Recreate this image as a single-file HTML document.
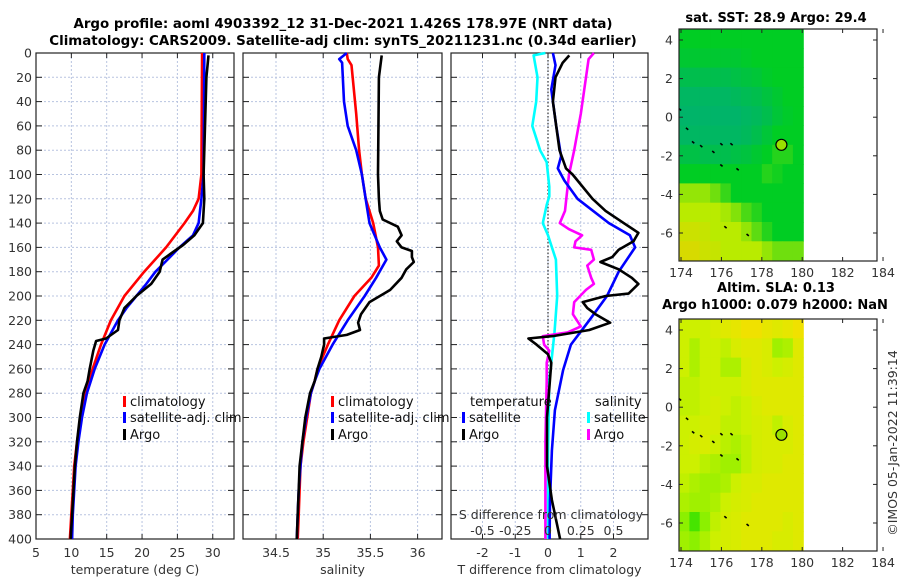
<!DOCTYPE html>
<html><head><meta charset="utf-8"><style>
body{margin:0;background:#fff;}
svg{display:block;font-family:"DejaVu Sans","Liberation Sans",sans-serif;}
.tk{font-size:12.5px;fill:#333;}
.ttl{font-size:13.4px;font-weight:bold;fill:#000;}
.mt{font-size:13px;font-weight:bold;fill:#000;}
.lg{font-size:13px;fill:#111;}
</style></head><body>
<svg id="fig" width="900" height="580" viewBox="0 0 900 580" xmlns="http://www.w3.org/2000/svg">
<text class="ttl" x="343" y="28" text-anchor="middle">Argo profile: aoml 4903392_12 31-Dec-2021 1.426S 178.97E (NRT data)</text>
<text class="ttl" x="343" y="45" text-anchor="middle">Climatology: CARS2009. Satellite-adj clim: synTS_20211231.nc (0.34d earlier)</text>
<g id="layer"></g>
</svg>
<script>
// ---- data ----
const tDepth=[0,100,120,130,140,160,180,200,220,240,260,280,300,320,340,360,380,400];
const tClim=[28.5,28.4,28.0,27.2,26.0,23.4,20.3,17.5,15.6,14.2,13.0,12.0,11.3,10.8,10.4,10.2,10.0,9.8];
const tSatD=[0,100,120,140,150,160,170,180,190,200,210,220,240,260,280,300,320,340,360,380,400];
const tSat=[28.8,28.7,28.4,28.0,27.2,25.3,23.6,21.9,20.6,19.2,17.8,16.6,14.7,13.3,12.2,11.5,11.0,10.6,10.4,10.2,10.1];
const tArgoD=[2,20,100,120,140,150,158,165,170,180,190,200,210,220,228,235,237,245,260,270,280,300,320,340,360,380,400];
const tArgo=[29.4,29.1,28.7,28.8,28.6,27.4,25.8,24.1,22.9,22.5,21.3,19.2,17.5,16.8,16.6,14.9,13.5,13.1,12.6,12.3,11.7,11.2,10.8,10.5,10.3,10.1,9.9];
const sClimD=[0,5,10,50,80,100,120,140,160,175,185,200,220,240,260,270,280,300,320,340,360,380,400];
const sClim=[35.25,35.26,35.30,35.35,35.38,35.41,35.45,35.53,35.58,35.59,35.51,35.33,35.17,35.05,34.94,34.91,34.87,34.83,34.79,34.76,34.75,34.74,34.73];
const sSatD=[0,5,8,40,60,80,100,115,125,140,160,170,185,200,220,240,260,270,280,300,320,340,360,380,400];
const sSat=[35.25,35.17,35.20,35.22,35.26,35.35,35.41,35.44,35.46,35.49,35.60,35.67,35.56,35.44,35.26,35.10,34.96,34.91,34.87,34.82,34.78,34.76,34.74,34.73,34.72];
const sArgoD=[2,20,100,120,130,137,143,150,155,160,163,168,172,178,185,195,205,215,222,228,232,235,240,250,260,270,280,300,320,340,360,380,400];
const sArgo=[35.62,35.59,35.58,35.59,35.60,35.63,35.79,35.83,35.78,35.83,35.94,35.94,35.96,35.88,35.83,35.71,35.49,35.40,35.37,35.39,35.25,35.01,35.01,34.98,34.94,34.91,34.86,34.81,34.78,34.75,34.74,34.73,34.72];
const dSatTD=[0,10,30,60,85,95,105,120,140,150,160,180,200,220,240,261,294,327,368,400];
const dSatT=[0.15,0.23,0.10,0.25,0.40,0.30,0.50,0.90,1.86,2.50,2.66,2.16,1.80,1.26,0.70,0.46,0.21,0.12,0.06,0.05];
const dArgoTD=[2,8,20,40,80,95,100,120,130,140,148,155,162,168,172,178,185,190,198,200,205,210,215,222,228,233,235,240,248,255,300,340,368,400];
const dArgoT=[0.65,0.45,0.23,0.15,0.35,0.55,0.75,1.36,1.76,2.31,2.76,2.61,2.16,1.96,1.60,2.16,2.56,2.76,2.46,1.76,1.06,1.20,1.45,1.90,1.26,0.15,-0.60,-0.35,0.00,0.10,-0.03,-0.03,0.12,0.37];
const dSatSD=[0,2,20,40,60,80,90,110,118,125,140,150,170,200,230,250,270,330,400];
const dSatS=[-0.02,-0.11,-0.08,-0.09,-0.12,-0.06,-0.01,0.01,0.01,-0.01,-0.04,0.00,0.06,0.07,0.05,0.03,0.01,0.00,0.00];
const dArgoSD=[0,5,20,50,80,100,120,130,140,145,150,155,160,162,170,175,185,190,195,205,215,225,230,233,240,245,255,270,320,400];
const dArgoS=[0.35,0.31,0.29,0.25,0.20,0.16,0.14,0.13,0.09,0.16,0.26,0.21,0.20,0.33,0.35,0.30,0.33,0.35,0.29,0.20,0.19,0.25,0.15,-0.04,-0.03,0.01,-0.01,-0.01,-0.02,-0.02];
const depthTicks=[0,20,40,60,80,100,120,140,160,180,200,220,240,260,280,300,320,340,360,380,400];
const tTicks=[5,10,15,20,25,30];
const sTicks=[34.5,35,35.5,36];
const dTTicks=[-2,-1,0,1,2];
const dSTicks=[-0.5,-0.25,0,0.25,0.5];
const dSLabels=["-0.5","-0.25","0","0.25","0.5"];
const latTicks=[4,2,0,-2,-4,-6];
const lonTicks=[174,176,178,180,182,184];
const sstGrid=[
[2,2,2,2,2,2,2,2,2,2,2,2],
[1.8,1.8,1.8,1.8,1.8,1.8,1.9,2,2,2,2,2],
[1.4,1.4,1.4,1.4,1.4,1.5,1.6,1.7,1.9,2,2,2],
[1.1,1.1,1.1,1.1,1.1,1.2,1.3,1.4,1.6,1.8,2,2],
[1,1,1,1,1,1,1.1,1.2,1.4,1.7,1.9,2],
[1.1,1.1,1.1,1.1,1.1,1.1,1.2,1.4,1.7,2,2,2],
[1.5,1.5,1.4,1.4,1.4,1.5,1.6,1.8,2,2.2,2.2,2],
[2,2,2,2,2,2,2,2,2.2,2.1,2,2],
[2.8,2.8,2.8,2.6,2.3,2,2,2,2,2,2,2],
[3,3,3,3,2.9,2.7,2.4,2.2,2,2,2,2],
[3.3,3.3,3.2,3,3,3,2.8,2.5,2.2,2,2,2],
[3.5,3.5,3.3,3.2,3,3,3,3,2.8,2.6,2.6,2.6]];
const slaGrid=[
[2,2,2,2.3,2.5,2.7,3,3,2.7,2.5,2.7,3],
[2,1.5,2,2,1.8,2.3,2.5,2.5,2.3,1.3,1.5,2.5],
[2,1.5,2,2,1.5,1.5,2.3,2.5,2.3,2,2.2,2.5],
[1.8,1.8,2,2,2,2,2.3,2.5,2.5,2.5,2.5,2.5],
[1.8,1.8,2,2.2,2,1.8,2,2.3,2.5,2.5,2.5,2.5],
[2,2,2.2,2.2,1.8,1.8,2,2.2,2.3,1.8,2.3,2.5],
[2,2.2,2.3,2,1.7,1.5,1.8,2.2,2.3,2.3,2.3,2.5],
[2,2,1.7,1.5,1.3,1.3,1.8,2.2,2.3,2.3,2.5,2.5],
[1.8,1.5,1.3,1.3,1.5,2,2.3,2.3,2.5,2.5,2.5,2.5],
[1.5,1.3,1.3,1.5,2,2.2,2.3,2.5,2.5,2.5,2.5,2.5],
[1,0.5,1,1.8,2.2,2.3,2.5,2.5,2.5,2.5,2.3,2.5],
[1.3,1,1.5,2,2.2,2.3,2.5,2.5,2.5,2.3,2.3,2.5]];
const islandLon=[173.95,174.3,174.6,175.0,175.6,176.0,176.5,176.0,176.8,176.2,177.3];
const islandLat=[0.4,-0.6,-1.3,-1.5,-1.8,-1.4,-1.4,-2.5,-2.7,-5.7,-6.1];
const argoLon=178.97, argoLat=-1.43;

// ---- helpers ----
const NS="http://www.w3.org/2000/svg";
const L=document.getElementById('layer');
function mk(tag,attrs,parent){const e=document.createElementNS(NS,tag);for(const k in attrs)e.setAttribute(k,attrs[k]);(parent||L).appendChild(e);return e;}
function txt(s,x,y,cls,anchor,parent){const e=mk('text',{x:x,y:y,class:cls,'text-anchor':anchor||'middle'},parent);e.textContent=s;return e;}
const TOP=53,BOT=539;
const yD=d=>TOP+d*(BOT-TOP)/400;
const xT=t=>36+(t-5)*7.07;
const xS=s=>276+(s-34.5)*94.4;
const xDT=t=>548+t*32.75;
const xDS=s=>548+s*4*32.75;

function panel(name,x0,x1,xTicks,xf,labels,showDepth,xlabel){
  const g=mk('g',{});
  
  
  xTicks.forEach(v=>{const x=xf(v);const ln=mk('line',{x1:x,x2:x,y1:TOP,y2:BOT,stroke:'#b8c4e0','stroke-width':1,'stroke-dasharray':'2,2'},g);
    
    mk('line',{x1:x,x2:x,y1:TOP,y2:TOP+5,stroke:'#222'},g);mk('line',{x1:x,x2:x,y1:BOT,y2:BOT-5,stroke:'#222'},g);});
  depthTicks.forEach(d=>{const y=yD(d);
    if(d>0&&d<400){const ln=mk('line',{x1:x0,x2:x1,y1:y,y2:y,stroke:'#b8c4e0','stroke-width':1,'stroke-dasharray':'2,2'},g);
    }
    mk('line',{x1:x0,x2:x0+6,y1:y,y2:y,stroke:'#222'},g);mk('line',{x1:x1,x2:x1-6,y1:y,y2:y,stroke:'#222'},g);
    if(showDepth){const t=txt(String(d),x0-4,y+4.5,'tk','end',g);}});
  if(labels){xTicks.forEach((v,i)=>{const t=txt(labels[i],xf(v),557,'tk','middle',g);});}
  if(xlabel){const t=txt(xlabel,(x0+x1)/2,574,'tk','middle',g);}
  const b=mk('rect',{x:x0,y:TOP,width:x1-x0,height:BOT-TOP,fill:'none',stroke:'#222','stroke-width':1.2},g);
  
  return g;
}
function series(name,xs,ds,xf,color,w){
  const pts=xs.map((v,i)=>xf(v).toFixed(1)+','+yD(ds[i]).toFixed(1)).join(' ');
  const p=mk('polyline',{points:pts,fill:'none',stroke:color,'stroke-width':w||2.6,'stroke-linejoin':'round'});
  
  
}
function legItem(name,x,y,color,label){
  const r=mk('rect',{x:x,y:y-10,width:3,height:11,fill:color});
  
  
  const t=txt(label,x+7,y,'lg','start');
  
  
}

// ---- panel 1 ----
panel('temperature-panel',36,234,tTicks,xT,tTicks.map(String),true,'temperature (deg C)');
series('temp-climatology-line',tClim,tDepth,xT,'#ff0000');
series('temp-satellite-line',tSat,tSatD,xT,'#0000ff');
series('temp-argo-line',tArgo,tArgoD,xT,'#000000');
legItem('legend-climatology',123,406,'#ff0000','climatology');
legItem('legend-satellite-adj',123,422,'#0000ff','satellite-adj. clim');
legItem('legend-argo',123,439,'#000000','Argo');

// ---- panel 2 ----
panel('salinity-panel',243,442,sTicks,xS,sTicks.map(String),false,'salinity');
series('sal-climatology-line',sClim,sClimD,xS,'#ff0000');
series('sal-satellite-line',sSat,sSatD,xS,'#0000ff');
series('sal-argo-line',sArgo,sArgoD,xS,'#000000');
legItem('legend-climatology-2',331,406,'#ff0000','climatology');
legItem('legend-satellite-adj-2',331,422,'#0000ff','satellite-adj. clim');
legItem('legend-argo-2',331,439,'#000000','Argo');

// ---- panel 3 ----
panel('difference-panel',451,648,dTTicks,xDT,dTTicks.map(String),false,'T difference from climatology');
const zl=mk('line',{x1:xDT(0),x2:xDT(0),y1:TOP,y2:BOT,stroke:'#333','stroke-width':1.2,'stroke-dasharray':'1.5,2'});


series('sat-s-diff-line',dSatS,dSatSD,xDS,'#00ffff');
series('argo-s-diff-line',dArgoS,dArgoSD,xDS,'#ff00ff');
series('sat-t-diff-line',dSatT,dSatTD,xDT,'#0000ff');
series('argo-t-diff-line',dArgoT,dArgoTD,xDT,'#000000');
{const t=txt('S difference from climatology',551,519,'tk','middle');}
dSTicks.forEach((v,i)=>{const t=txt(dSLabels[i],xDS(v),535,'tk','middle');
  
  });
{const t=txt('temperature',470,406,'lg','start');}
{const t=txt('salinity',595,406,'lg','start');}
legItem('legend-t-satellite',462,422,'#0000ff','satellite');
legItem('legend-t-argo',462,439,'#000000','Argo');
legItem('legend-s-satellite',587,422,'#00ffff','satellite');
legItem('legend-s-argo',587,439,'#ff00ff','Argo');

// ---- maps ----
const MX0=679,MX1=877;
const lonX=l=>MX0+(l-173.9)*20.2;
function cmap(stops,v){
  let i=Math.min(stops.length-2,Math.max(0,Math.floor(v)));const f=Math.min(1,Math.max(0,v-i));
  const a=stops[i],b=stops[i+1];
  return 'rgb('+a.map((c,k)=>Math.round(c+(b[k]-c)*f)).join(',')+')';
}
const sstStops=[[0,160,125],[0,180,105],[0,205,35],[185,235,0],[245,200,0]];
const slaStops=[[0,215,0],[140,240,0],[205,240,0],[240,225,0]];
function mapPanel(name,top,grid,stops,t1,t2){
  const bot=top+232;
  const latY=a=>top+(4.57-a)*19.3;
  const g=mk('g',{});
  
  
  const cw=(180.05-173.9)/12;
  grid.forEach((row,r)=>row.forEach((v,c)=>{
    const x=lonX(173.9+c*cw),x2=lonX(173.9+(c+1)*cw);
    const y=latY(4.57-r),y2=latY(4.57-r-1);
    const cell=mk('rect',{x:x.toFixed(1),y:y.toFixed(1),width:(x2-x+0.5).toFixed(1),height:(Math.min(y2,bot)-y+0.5).toFixed(1),fill:cmap(stops,v)},g);
    
    
  }));
  islandLon.forEach((l,i)=>{const d=mk('rect',{x:lonX(l)-1.5,y:latY(islandLat[i])-0.8,width:3,height:1.6,fill:'#000',transform:'rotate(40 '+lonX(l)+' '+latY(islandLat[i])+')'},g);
    
    });
  const c=mk('circle',{cx:lonX(argoLon),cy:latY(argoLat),r:5.5,fill:'#9ae000',stroke:'#000','stroke-width':1.2},g);
  
  
  latTicks.forEach(a=>{const y=latY(a);mk('line',{x1:MX0,x2:MX0+4,y1:y,y2:y,stroke:'#222'},g);mk('line',{x1:MX1,x2:MX1-4,y1:y,y2:y,stroke:'#222'},g);
    const t=txt(String(a),673,y+4.5,'tk','end',g);});
  lonTicks.forEach(l=>{const x=lonX(l);mk('line',{x1:x,x2:x,y1:top,y2:top+4,stroke:'#222'},g);mk('line',{x1:x,x2:x,y1:bot,y2:bot-4,stroke:'#222'},g);
    const t=txt(String(l),x,bot+16,'tk','middle',g);});
  const b=mk('rect',{x:MX0,y:top,width:MX1-MX0,height:bot-top,fill:'none',stroke:'#222','stroke-width':1.2},g);
  
  
  const a=txt(t1,(MX0+MX1)/2-2,t2?top-27:top-7,'mt','middle',g);
  
  
  if(t2){const b2=txt(t2,(MX0+MX1)/2-3,top-10,'mt','middle',g);}
}
mapPanel('sst-map',29,sstGrid,sstStops,'sat. SST: 28.9 Argo: 29.4');
mapPanel('sla-map',319,slaGrid,slaStops,'Altim. SLA: 0.13','Argo h1000: 0.079 h2000: NaN');
{const t=txt('©IMOS 05-Jan-2022 11:39:14',0,0,'tk','middle');
t.setAttribute('transform','translate(897,443) rotate(-90)');

}
</script>
</body></html>
